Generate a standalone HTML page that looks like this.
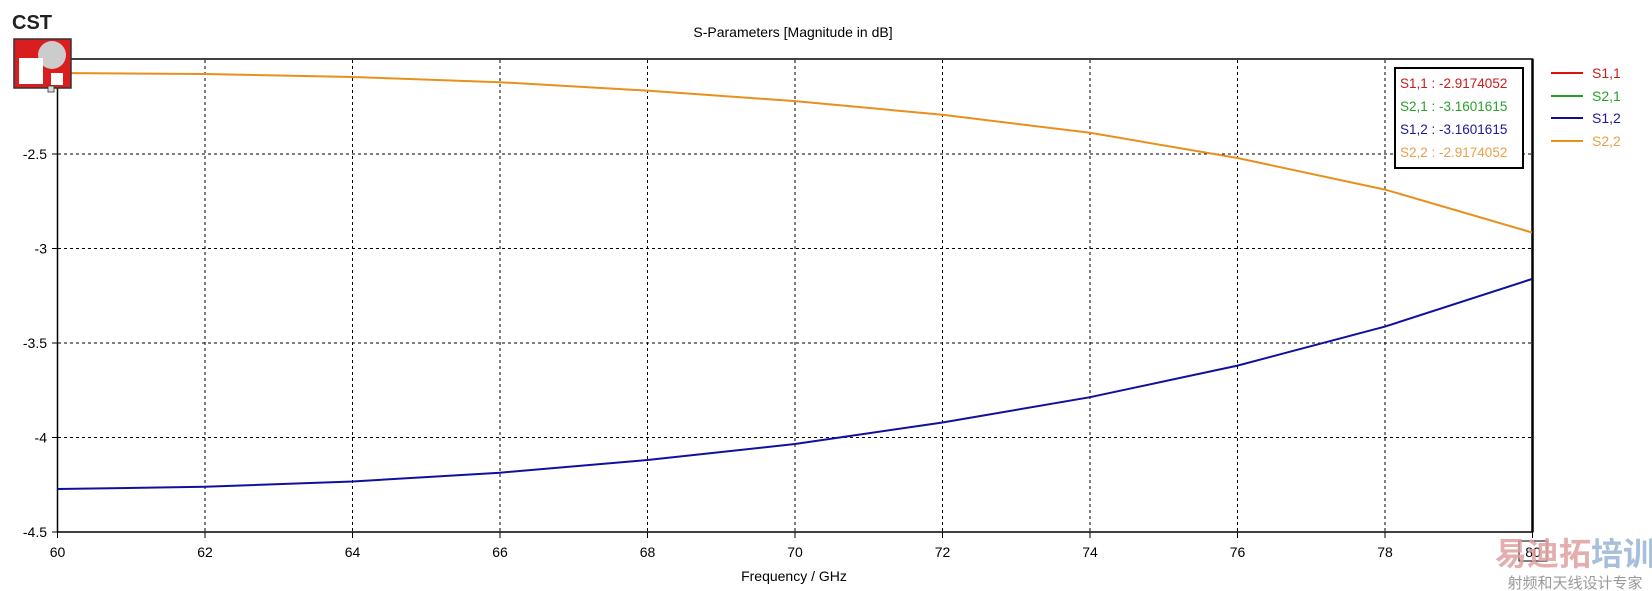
<!DOCTYPE html>
<html><head><meta charset="utf-8"><style>
html,body{margin:0;padding:0;background:#fff;}
svg{display:block;font-family:Tahoma,"Liberation Sans","DejaVu Sans",sans-serif;}
</style></head><body>
<svg width="1652" height="591" viewBox="0 0 1652 591" xmlns="http://www.w3.org/2000/svg">
<rect width="1652" height="591" fill="#fff"/>
<text x="793" y="37" font-size="14" text-anchor="middle" fill="#000">S-Parameters [Magnitude in dB]</text>
<g stroke="#000" stroke-width="1" stroke-dasharray="3,3">
<line x1="205" y1="60" x2="205" y2="532"/><line x1="352.5" y1="60" x2="352.5" y2="532"/><line x1="500" y1="60" x2="500" y2="532"/><line x1="647.5" y1="60" x2="647.5" y2="532"/><line x1="795" y1="60" x2="795" y2="532"/><line x1="942.5" y1="60" x2="942.5" y2="532"/><line x1="1090" y1="60" x2="1090" y2="532"/><line x1="1237.5" y1="60" x2="1237.5" y2="532"/><line x1="1385" y1="60" x2="1385" y2="532"/>
<line x1="58" y1="154" x2="1532" y2="154"/><line x1="58" y1="248.5" x2="1532" y2="248.5"/><line x1="58" y1="343" x2="1532" y2="343"/><line x1="58" y1="437.5" x2="1532" y2="437.5"/>
</g>
<rect x="57.5" y="59" width="1475" height="473" fill="none" stroke="#000" stroke-width="1.5"/>
<line x1="1532.5" y1="59" x2="1532.5" y2="532" stroke="#000" stroke-width="2.5"/>
<g stroke="#000" stroke-width="1">
<line x1="57.5" y1="532" x2="57.5" y2="538"/><line x1="205" y1="532" x2="205" y2="538"/><line x1="352.5" y1="532" x2="352.5" y2="538"/><line x1="500" y1="532" x2="500" y2="538"/><line x1="647.5" y1="532" x2="647.5" y2="538"/><line x1="795" y1="532" x2="795" y2="538"/><line x1="942.5" y1="532" x2="942.5" y2="538"/><line x1="1090" y1="532" x2="1090" y2="538"/><line x1="1237.5" y1="532" x2="1237.5" y2="538"/><line x1="1385" y1="532" x2="1385" y2="538"/><line x1="1532.5" y1="532" x2="1532.5" y2="538"/>
<line x1="52" y1="154" x2="57.5" y2="154"/><line x1="52" y1="248.5" x2="57.5" y2="248.5"/><line x1="52" y1="343" x2="57.5" y2="343"/><line x1="52" y1="437.5" x2="57.5" y2="437.5"/><line x1="52" y1="532" x2="57.5" y2="532"/>
</g>
<g font-size="14" text-anchor="end" fill="#000">
<text x="47" y="159">-2.5</text><text x="47" y="253.5">-3</text><text x="47" y="348">-3.5</text><text x="47" y="442.5">-4</text><text x="47" y="537">-4.5</text>
</g>
<g font-size="14" text-anchor="middle" fill="#000">
<text x="57.5" y="557">60</text><text x="205" y="557">62</text><text x="352.5" y="557">64</text><text x="500" y="557">66</text><text x="647.5" y="557">68</text><text x="795" y="557">70</text><text x="942.5" y="557">72</text><text x="1090" y="557">74</text><text x="1237.5" y="557">76</text><text x="1385" y="557">78</text><text x="1533" y="557">80</text>
</g>
<rect x="1519" y="541" width="28" height="20" fill="none" stroke="#000" stroke-width="1"/>
<text x="794" y="581" font-size="14" text-anchor="middle" fill="#000">Frequency / GHz</text>
<polyline fill="none" stroke="#e8901c" stroke-width="2" points="57.5,73 205,74 352.5,77 500,82.2 647.5,90.6 795,101.1 942.5,114.8 1090,132.8 1237.5,158 1385,189.6 1532,232.5"/>
<polyline fill="none" stroke="#1010a0" stroke-width="2" points="57.5,489 205,486.8 352.5,481.5 500,472.7 647.5,460 795,444 942.5,422.5 1090,397.2 1237.5,365.6 1385,326.6 1532,279"/>
<rect x="1395" y="68" width="128" height="100" fill="#fff" stroke="#000" stroke-width="2"/>
<g font-size="13.5">
<text x="1400" y="88" fill="#cc1a1a">S1,1 : -2.9174052</text>
<text x="1400" y="111" fill="#2aa02a">S2,1 : -3.1601615</text>
<text x="1400" y="134" fill="#1a1a9a">S1,2 : -3.1601615</text>
<text x="1400" y="157" fill="#e8a04a">S2,2 : -2.9174052</text>
</g>
<line x1="1551" y1="73" x2="1583" y2="73" stroke="#e01010" stroke-width="2"/>
<line x1="1551" y1="96" x2="1583" y2="96" stroke="#20a020" stroke-width="2"/>
<line x1="1551" y1="118" x2="1583" y2="118" stroke="#10108a" stroke-width="2"/>
<line x1="1551" y1="141" x2="1583" y2="141" stroke="#e8901c" stroke-width="2"/>
<g font-size="14">
<text x="1592" y="78" fill="#cc1a1a">S1,1</text><text x="1592" y="101" fill="#2aa02a">S2,1</text><text x="1592" y="123" fill="#1a1a9a">S1,2</text><text x="1592" y="146" fill="#e8a04a">S2,2</text>
</g>
<text x="12" y="29" font-size="20" font-weight="bold" fill="#222" font-family="Liberation Sans,sans-serif">CST</text>
<rect x="14" y="39" width="57" height="49" fill="#d81e1e" stroke="#333" stroke-width="1.5"/>
<circle cx="52" cy="55" r="14" fill="#ccc"/>
<rect x="19" y="58" width="24" height="26" fill="#fff"/>
<rect x="51" y="73" width="12" height="12" fill="#fff"/>
<rect x="48" y="86" width="6" height="6" fill="#ddd" stroke="#333" stroke-width="0.8"/>
<text x="1575" y="565" font-size="32" font-weight="bold" text-anchor="middle" fill="#e0a0a0" opacity="0.85" font-family="Liberation Sans,'Noto Sans CJK SC',sans-serif">易迪拓<tspan fill="#9ab4d6">培训</tspan></text>
<text x="1575" y="588" font-size="15" text-anchor="middle" fill="#999" font-family="'Noto Sans CJK SC',sans-serif">射频和天线设计专家</text>
</svg>
</body></html>
